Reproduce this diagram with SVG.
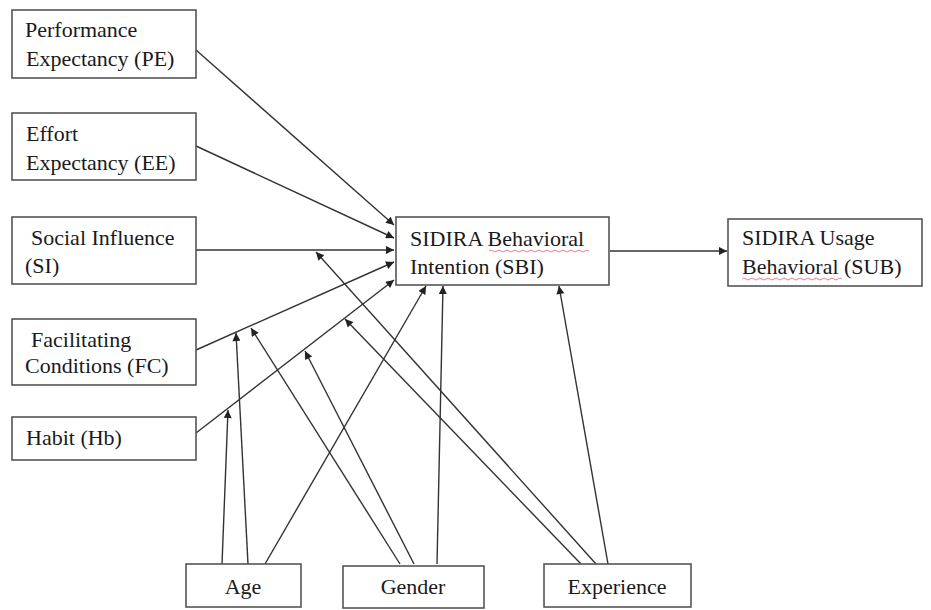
<svg xmlns="http://www.w3.org/2000/svg" width="931" height="610" viewBox="0 0 931 610">
<style>
.box{fill:#fff;stroke:#555;stroke-width:1.6}
.t{font-family:"Liberation Serif","Times New Roman",serif;font-size:22px;fill:#1a1a1a}
.c{stroke:#333;stroke-width:1.4;fill:none;marker-end:url(#ah)}
.sp{fill:none;stroke:#e07080;stroke-width:0.9}
</style>
<defs>
<marker id="ah" viewBox="0 0 10 10" refX="10" refY="5" markerWidth="9" markerHeight="8" markerUnits="userSpaceOnUse" orient="auto">
<path d="M0,0 L10,5 L0,10 z" fill="#222"/>
</marker>
</defs>
<rect width="931" height="610" fill="#fff"/>
<g id="connectors">
<line class="c" x1="196" y1="50" x2="394" y2="225"/>
<line class="c" x1="196" y1="146" x2="394" y2="238"/>
<line class="c" x1="196" y1="250" x2="394" y2="250"/>
<line class="c" x1="196" y1="350" x2="394" y2="262"/>
<line class="c" x1="196" y1="433" x2="394" y2="280"/>
<line class="c" x1="610" y1="251" x2="727" y2="251"/>
<line class="c" x1="222" y1="564" x2="228" y2="410"/>
<line class="c" x1="248" y1="564" x2="236" y2="333"/>
<line class="c" x1="265" y1="564" x2="426" y2="286"/>
<line class="c" x1="400" y1="564" x2="251" y2="328"/>
<line class="c" x1="414" y1="564" x2="305" y2="351"/>
<line class="c" x1="437" y1="564" x2="443" y2="286"/>
<line class="c" x1="581" y1="564" x2="345" y2="319"/>
<line class="c" x1="596" y1="564" x2="316" y2="252"/>
<line class="c" x1="608" y1="564" x2="559" y2="286"/>
</g>
<g id="pe"><rect class="box" x="12" y="10" width="184" height="68"/><text class="t" x="25" y="37">Performance</text><text class="t" x="26" y="66">Expectancy (PE)</text></g>
<g id="ee"><rect class="box" x="12" y="113" width="184" height="67"/><text class="t" x="26" y="141">Effort</text><text class="t" x="26" y="170">Expectancy (EE)</text></g>
<g id="si"><rect class="box" x="12" y="217" width="184" height="67"/><text class="t" x="31" y="245">Social Influence</text><text class="t" x="25" y="273">(SI)</text></g>
<g id="fc"><rect class="box" x="12" y="319" width="184" height="66"/><text class="t" x="31" y="347">Facilitating</text><text class="t" x="25" y="373">Conditions (FC)</text></g>
<g id="hb"><rect class="box" x="12" y="417" width="184" height="43"/><text class="t" x="26" y="445">Habit (Hb)</text></g>
<g id="sbi"><rect class="box" x="396" y="217" width="213" height="68"/><text class="t" x="410" y="246">SIDIRA Behavioral</text><text class="t" x="410" y="274">Intention (SBI)</text><path class="sp" d="M489,251 q2,-2 4,0 t4,0 t4,0 t4,0 t4,0 t4,0 t4,0 t4,0 t4,0 t4,0 t4,0 t4,0 t4,0 t4,0 t4,0 t4,0 t4,0 t4,0 t4,0 t4,0 t4,0 t4,0 t4,0 t4,0 t4,0"/></g>
<g id="sub"><rect class="box" x="728" y="219" width="194" height="67"/><text class="t" x="742" y="245">SIDIRA Usage</text><text class="t" x="742" y="274">Behavioral (SUB)</text><path class="sp" d="M742,279 q2,-2 4,0 t4,0 t4,0 t4,0 t4,0 t4,0 t4,0 t4,0 t4,0 t4,0 t4,0 t4,0 t4,0 t4,0 t4,0 t4,0 t4,0 t4,0 t4,0 t4,0 t4,0 t4,0 t4,0 t4,0 t4,0"/></g>
<g id="age"><rect class="box" x="186" y="564" width="115" height="43"/><text class="t" x="243" y="594" text-anchor="middle">Age</text></g>
<g id="gender"><rect class="box" x="343" y="566" width="141" height="42"/><text class="t" x="413" y="594" text-anchor="middle">Gender</text></g>
<g id="experience"><rect class="box" x="544" y="564" width="147" height="43"/><text class="t" x="617" y="594" text-anchor="middle">Experience</text></g>
</svg>
